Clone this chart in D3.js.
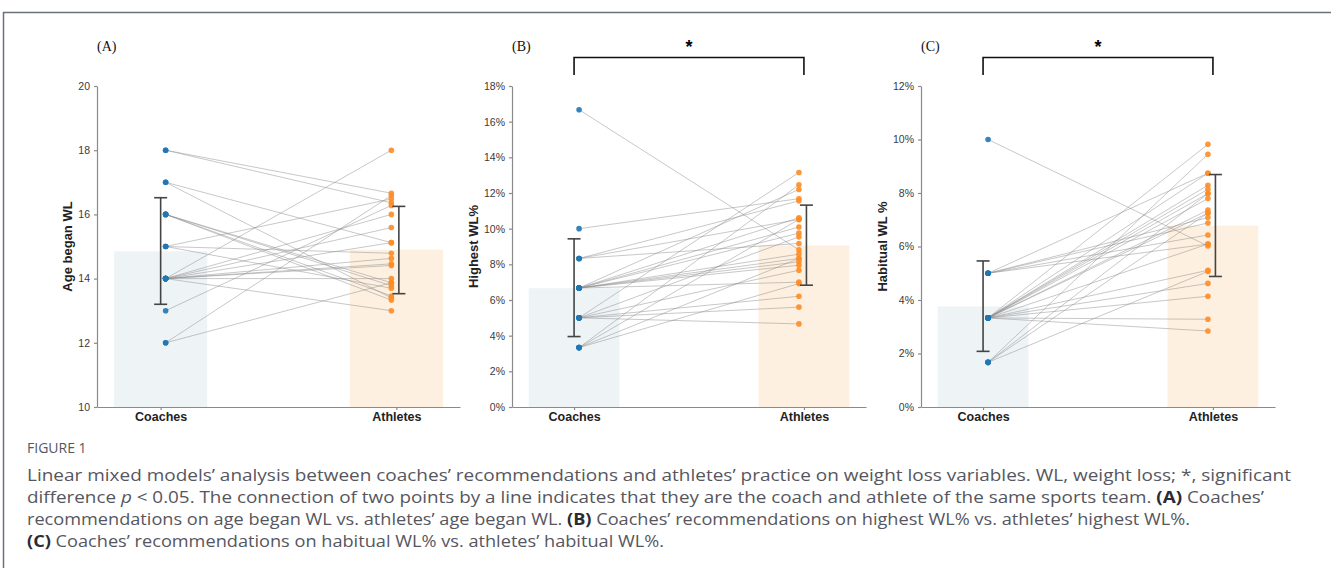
<!DOCTYPE html>
<html lang="en">
<head>
<meta charset="UTF-8">
<script src="https://d3js.org/d3.v7.min.js"></script>
<title>Coaches vs athletes weight loss</title>
<style>
  body { margin: 0; background: #fff; }
  .axis path, .axis line { stroke: #8a8a8a; stroke-width: 1.2px; }
  .axis text { font-family: "Liberation Sans", Arial, sans-serif; font-size: 10.5px; fill: #3a3a3a; }
  .xaxis text { font-size: 12.5px; font-weight: bold; fill: #222; }
  .ytitle { font-family: "Liberation Sans", Arial, sans-serif; font-size: 13px; font-weight: bold; fill: #222; }
  .pair { stroke: #8c8c8c; stroke-opacity: 0.6; stroke-width: 0.8px; fill: none; }
  .err { stroke: #444; stroke-width: 1.6px; }
  .plabel { font-family: "Liberation Serif", "Times New Roman", serif; font-size: 14px; fill: #111; }
  .caption { font-family: "Open Sans", "Noto Sans", sans-serif; fill: #56565e; }
</style>
</head>
<body>
<svg id="fig" width="1331" height="568"></svg>
<script>
var groups = ["Coaches", "Athletes"];

// (A) age began WL -- one entry per coach/athlete pair (same sports team)
var ageCoach   = [18, 18, 17, 17, 16, 16, 16, 16, 15, 15, 15, 14, 14, 14, 14, 14, 14, 14, 14, 14, 13, 12, 12];
var ageAthlete = [16.66, 16.36, 15.12, 13.4, 13.87, 13.78, 13.46, 13.33, 16.48, 14.79, 13.7, 18, 16.0, 15.59, 14.63, 14.46, 14.41, 14.0, 13.0, 15.12, 16.28, 16.59, 13.87];
var ageMean = [14.85, 14.9];
var ageErr  = [[13.2, 16.52], [13.53, 16.25]];
var ageTicks = [10, 12, 14, 16, 18, 20];

// (B) highest WL%
var highCoach   = [16.67, 10, 8.33, 8.33, 8.33, 6.67, 6.67, 6.67, 6.67, 6.67, 6.67, 6.67, 6.67, 6.67, 5, 5, 5, 5, 5, 5, 3.33, 3.33, 3.33, 3.33];
var highAthlete = [8.81, 11.68, 11.56, 9.17, 10.52, 10.61, 10.09, 9.75, 8.57, 8.33, 8.14, 7.95, 7.0, 12.2, 13.15, 9.54, 7.67, 6.21, 5.6, 4.66, 12.46, 10.52, 8.33, 6.92];
var highMean = [6.66, 9.06];
var highErr  = [[3.95, 9.43], [6.83, 11.32]];
var highTicks = [0, 2, 4, 6, 8, 10, 12, 14, 16, 18];

// (C) habitual WL%
var habCoach   = [10, 5, 5, 5, 5, 5, 3.33, 3.33, 3.33, 3.33, 3.33, 3.33, 3.33, 3.33, 3.33, 3.33, 3.33, 3.33, 3.33, 3.33, 1.67, 1.67, 1.67, 1.67];
var habAthlete = [6.02, 8.74, 7.08, 6.88, 6.43, 6.09, 9.82, 8.74, 8.29, 8.14, 7.98, 7.79, 7.36, 7.25, 5.11, 4.62, 4.14, 3.28, 2.84, 6.09, 9.45, 7.98, 7.25, 5.07];
var habMean = [3.76, 6.78];
var habErr  = [[2.08, 5.46], [4.88, 8.69]];
var habTicks = [0, 2, 4, 6, 8, 10, 12];

var pct = function (d) { return d + "%"; };

var panels = [
  { label: "(A)", title: "Age began WL", left: 97, right: 460, domain: [10, 20], ticks: ageTicks, fmt: String,
    coach: ageCoach, athlete: ageAthlete, mean: ageMean, err: ageErr, sig: false, titleX: 72 },
  { label: "(B)", title: "Highest WL%", left: 512, right: 866, domain: [0, 18], ticks: highTicks, fmt: pct,
    coach: highCoach, athlete: highAthlete, mean: highMean, err: highErr, sig: true, titleX: 478 },
  { label: "(C)", title: "Habitual WL %", left: 921, right: 1275, domain: [0, 12], ticks: habTicks, fmt: pct,
    coach: habCoach, athlete: habAthlete, mean: habMean, err: habErr, sig: true, titleX: 887 }
];

var plotTop = 86, plotBottom = 407;
var barFill = ["#eef3f5", "#fdf0e0"];
var dotFill = ["#1f77b4", "#ff8c24"];
var dotShift = [5, -5], errShift = [0, 2.5];

var svg = d3.select("#fig");

// frame round the figure
svg.append("path")
  .attr("d", "M3.5,568V12.5H1331")
  .attr("fill", "none")
  .attr("stroke", "#6c6f7c")
  .attr("stroke-width", 1.5);

panels.forEach(function (p) {
  var x = d3.scalePoint().domain(groups).range([p.left, p.right]).padding(0.27);
  var step = x.step();
  var bw = step * 0.395;
  var y = d3.scaleLinear().domain(p.domain).range([plotBottom, plotTop]);

  var g = svg.append("g");

  // mean bars
  g.selectAll(".bar").data(groups).enter().append("rect")
    .attr("x", function (d) { return x(d) - bw / 2; })
    .attr("y", function (d, i) { return y(p.mean[i]); })
    .attr("width", bw)
    .attr("height", function (d, i) { return plotBottom - y(p.mean[i]); })
    .attr("fill", function (d, i) { return barFill[i]; });

  // pair lines
  g.selectAll(".pair").data(p.coach).enter().append("line")
    .attr("class", "pair")
    .attr("x1", x("Coaches") + dotShift[0])
    .attr("y1", function (d) { return y(d); })
    .attr("x2", x("Athletes") + dotShift[1])
    .attr("y2", function (d, i) { return y(p.athlete[i]); });

  // dots
  [p.coach, p.athlete].forEach(function (vals, k) {
    g.selectAll(".dot" + k).data(vals).enter().append("circle")
      .attr("cx", x(groups[k]) + dotShift[k])
      .attr("cy", function (d) { return y(d); })
      .attr("r", 2.8)
      .attr("fill", dotFill[k])
      .attr("fill-opacity", 0.9);
  });

  // error bars
  groups.forEach(function (gName, i) {
    var cx = x(gName) + errShift[i];
    var lo = y(p.err[i][0]), hi = y(p.err[i][1]);
    g.append("line").attr("class", "err").attr("x1", cx).attr("x2", cx).attr("y1", lo).attr("y2", hi);
    [lo, hi].forEach(function (yy) {
      g.append("line").attr("class", "err").attr("x1", cx - 6.5).attr("x2", cx + 6.5).attr("y1", yy).attr("y2", yy);
    });
  });

  // axes
  g.append("g")
    .attr("class", "axis")
    .attr("transform", "translate(" + p.left + ",0)")
    .call(d3.axisLeft(y).tickValues(p.ticks).tickFormat(p.fmt).tickSize(3).tickSizeOuter(0).tickPadding(4));

  g.append("g")
    .attr("class", "axis xaxis")
    .attr("transform", "translate(0," + plotBottom + ")")
    .call(d3.axisBottom(x).tickSize(3).tickSizeOuter(0).tickPadding(2));
  g.select(".xaxis .domain").attr("stroke", "#b0b0b0");

  // y title
  g.append("text")
    .attr("class", "ytitle")
    .attr("transform", "translate(" + p.titleX + "," + ((plotTop + plotBottom) / 2) + ") rotate(-90)")
    .attr("text-anchor", "middle")
    .text(p.title);

  // panel label
  g.append("text")
    .attr("class", "plabel")
    .attr("x", p.left)
    .attr("y", 51)
    .text(p.label);

  // significance bracket
  if (p.sig) {
    var xa = x("Coaches"), xb = x("Athletes");
    g.append("path")
      .attr("d", "M" + xa + ",75V57.5H" + xb + "V75")
      .attr("fill", "none")
      .attr("stroke", "#111")
      .attr("stroke-width", 1.6);
    g.append("text")
      .attr("x", (xa + xb) / 2)
      .attr("y", 53)
      .attr("text-anchor", "middle")
      .attr("font-family", "Liberation Sans, Arial, sans-serif")
      .attr("font-size", 18)
      .attr("font-weight", "bold")
      .text("*");
  }
});

// caption
var cap = svg.append("g").attr("class", "caption");
cap.append("text").attr("x", 27).attr("y", 453).attr("font-size", 14).text("FIGURE 1");

var lines = [
  [["Linear mixed models\u2019 analysis between coaches\u2019 recommendations and athletes\u2019 practice on weight loss variables. WL, weight loss; *, significant"]],
  [["difference "], ["p", "i"], [" < 0.05. The connection of two points by a line indicates that they are the coach and athlete of the same sports team. "], ["(A)", "b"], [" Coaches\u2019"]],
  [["recommendations on age began WL vs. athletes\u2019 age began WL. "], ["(B)", "b"], [" Coaches\u2019 recommendations on highest WL% vs. athletes\u2019 highest WL%."]],
  [["(C)", "b"], [" Coaches\u2019 recommendations on habitual WL% vs. athletes\u2019 habitual WL%."]]
];
var lineWidths = [1264, 1237, 1163, 637];
lines.forEach(function (parts, i) {
  var t = cap.append("text").attr("x", 27).attr("y", 481 + i * 22).attr("font-size", 16.5)
    .attr("textLength", lineWidths[i]).attr("lengthAdjust", "spacingAndGlyphs");
  parts.forEach(function (s) {
    var ts = t.append("tspan").text(s[0]);
    if (s[1] === "b") ts.attr("font-weight", "bold").attr("fill", "#2b2b33");
    if (s[1] === "i") ts.attr("font-style", "italic");
  });
});
</script>
</body>
</html>
